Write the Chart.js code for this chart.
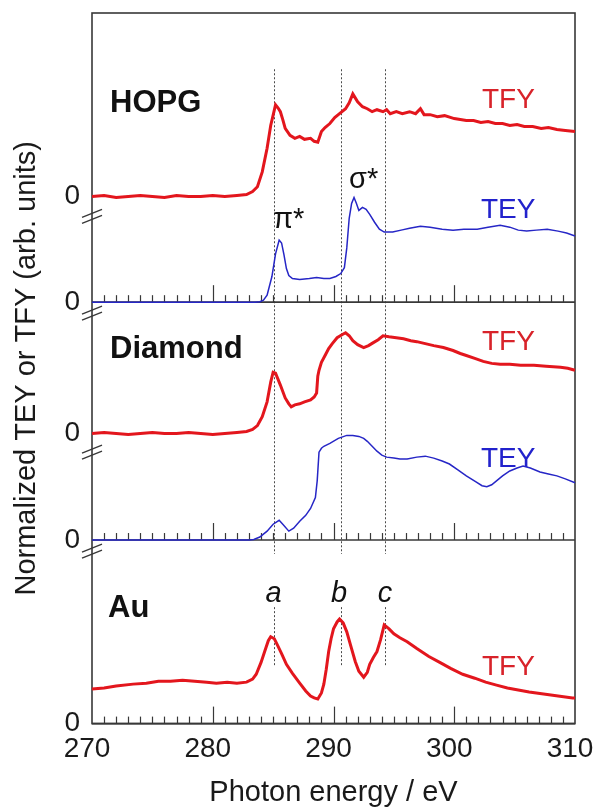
<!DOCTYPE html>
<html>
<head>
<meta charset="utf-8">
<script src="https://cdn.jsdelivr.net/npm/chart.js@4.4.1/dist/chart.umd.min.js"></script>
<style>
  html, body { margin: 0; padding: 0; background: #fff; }
</style>
</head>
<body>
<canvas id="chart" width="596" height="811"></canvas>
<script>
// photon energies (eV) and normalized yields
const hopgTfyE = [270, 271, 272, 273, 274, 275, 276, 277, 278, 279, 280, 281, 282, 282.8, 283.3, 283.7, 284.1, 284.5, 284.8, 285.2, 285.4, 285.6, 285.8, 286.0, 286.4, 286.8, 287.2, 287.6, 288.1, 288.4, 288.7, 289.0, 289.3, 289.7, 290.1, 290.5, 291.0, 291.3, 291.6, 291.8, 292.0, 292.4, 292.8, 293.2, 293.6, 294.1, 294.4, 294.7, 295.2, 295.7, 296.3, 296.8, 297.2, 297.5, 298.0, 298.6, 299.2, 300.0, 300.5, 301.0, 301.6, 302.2, 302.8, 303.4, 304.0, 304.6, 305.2, 305.8, 306.5, 307.2, 307.8, 308.5, 309.2, 310]
const hopgTfy = [0.00, 0.01, -0.01, 0.00, 0.01, 0.00, -0.01, 0.01, 0.00, 0.00, 0.01, 0.00, 0.01, 0.02, 0.05, 0.10, 0.25, 0.49, 0.72, 0.93, 0.90, 0.86, 0.78, 0.69, 0.62, 0.59, 0.61, 0.58, 0.59, 0.56, 0.55, 0.66, 0.70, 0.74, 0.80, 0.84, 0.89, 0.95, 1.04, 1.00, 0.96, 0.91, 0.89, 0.86, 0.88, 0.86, 0.88, 0.84, 0.86, 0.84, 0.86, 0.84, 0.89, 0.83, 0.83, 0.81, 0.82, 0.79, 0.78, 0.77, 0.77, 0.75, 0.76, 0.74, 0.74, 0.72, 0.73, 0.71, 0.71, 0.69, 0.70, 0.68, 0.67, 0.66]

const hopgTeyE = [270, 283.5, 283.9, 284.2, 284.5, 284.9, 285.2, 285.5, 285.7, 285.9, 286.1, 286.3, 286.6, 287.2, 288.0, 288.6, 289.2, 289.7, 290.2, 290.6, 290.9, 291.1, 291.3, 291.5, 291.7, 291.9, 292.1, 292.4, 292.7, 293.0, 293.4, 293.8, 294.2, 294.9, 295.6, 296.3, 297.2, 298.0, 299.0, 299.9, 300.8, 301.9, 302.8, 303.8, 304.6, 305.3, 306.0, 306.8, 307.7, 308.6, 309.3, 310]
const hopgTey = [0, 0, 0.005, 0.02, 0.07, 0.26, 0.49, 0.63, 0.60, 0.48, 0.34, 0.27, 0.24, 0.23, 0.24, 0.25, 0.24, 0.24, 0.26, 0.29, 0.35, 0.55, 0.85, 1.00, 1.06, 1.00, 0.93, 0.96, 0.94, 0.89, 0.81, 0.74, 0.71, 0.71, 0.73, 0.75, 0.77, 0.76, 0.74, 0.73, 0.74, 0.74, 0.76, 0.78, 0.76, 0.73, 0.72, 0.73, 0.74, 0.72, 0.70, 0.67]

const diaTfyE = [270, 271, 272, 273, 274, 275, 276, 277, 278, 279, 280, 281, 282, 282.8, 283.3, 283.7, 284.1, 284.5, 284.8, 285.0, 285.2, 285.6, 286.0, 286.3, 286.5, 286.8, 287.2, 287.6, 288.1, 288.4, 288.6, 288.7, 288.8, 289.0, 289.3, 289.6, 289.9, 290.3, 290.7, 291.0, 291.3, 291.6, 292.0, 292.5, 292.9, 293.3, 293.7, 294.1, 294.6, 295.2, 295.8, 296.4, 296.9, 297.6, 298.3, 299.1, 299.9, 300.5, 301.0, 301.7, 302.4, 303.1, 303.8, 304.6, 305.5, 306.6, 307.6, 308.8, 309.4, 310]
const diaTfy = [0.00, 0.01, 0.00, -0.01, 0.00, 0.01, 0.00, 0.00, 0.01, 0.00, -0.01, 0.00, 0.01, 0.02, 0.04, 0.08, 0.17, 0.32, 0.52, 0.62, 0.61, 0.49, 0.36, 0.30, 0.27, 0.29, 0.30, 0.32, 0.34, 0.37, 0.41, 0.58, 0.64, 0.72, 0.79, 0.86, 0.91, 0.97, 1.00, 1.02, 0.99, 0.94, 0.90, 0.87, 0.89, 0.92, 0.95, 0.99, 0.98, 0.97, 0.96, 0.94, 0.93, 0.91, 0.89, 0.87, 0.84, 0.81, 0.79, 0.76, 0.73, 0.71, 0.70, 0.70, 0.69, 0.69, 0.68, 0.67, 0.66, 0.64]

const diaTeyE = [270, 283.0, 283.4, 283.9, 284.5, 285.0, 285.5, 285.8, 286.3, 286.7, 287.2, 287.7, 288.1, 288.5, 288.65, 288.8, 289.0, 289.2, 289.7, 290.4, 291.1, 291.6, 292.1, 292.5, 292.8, 293.2, 293.6, 294.0, 294.4, 295.0, 295.5, 296.1, 296.9, 297.6, 298.3, 299.0, 299.6, 300.3, 301.0, 301.8, 302.3, 302.7, 303.1, 303.5, 304.0, 304.6, 305.2, 305.7, 306.3, 307.1, 307.8, 308.5, 309.2, 310]
const diaTey = [0, 0, 0.005, 0.03, 0.09, 0.16, 0.20, 0.16, 0.09, 0.12, 0.19, 0.25, 0.32, 0.43, 0.60, 0.89, 0.93, 0.95, 0.98, 1.03, 1.06, 1.06, 1.05, 1.03, 1.00, 0.95, 0.90, 0.86, 0.84, 0.83, 0.82, 0.82, 0.84, 0.85, 0.83, 0.80, 0.77, 0.71, 0.65, 0.59, 0.55, 0.54, 0.56, 0.60, 0.65, 0.70, 0.73, 0.75, 0.73, 0.69, 0.67, 0.65, 0.62, 0.58]

const auTfyE = [270, 271, 272, 273.4, 274.5, 275.5, 276.5, 277.5, 278.5, 279.5, 280.3, 281.2, 282.0, 282.8, 283.3, 283.6, 284.0, 284.3, 284.6, 284.8, 285.1, 285.3, 285.7, 286.1, 286.6, 287.2, 287.7, 288.1, 288.4, 288.7, 289.0, 289.2, 289.4, 289.6, 289.8, 290.0, 290.3, 290.5, 290.8, 291.1, 291.4, 291.8, 292.1, 292.5, 292.8, 293.0, 293.3, 293.6, 293.9, 294.2, 294.6, 295.0, 295.5, 296.1, 296.9, 297.9, 298.8, 299.7, 300.7, 301.7, 302.6, 303.5, 304.4, 305.3, 306.2, 307.4, 308.6, 309.8, 310]
const auTfy = [0.35, 0.36, 0.38, 0.40, 0.41, 0.43, 0.43, 0.44, 0.43, 0.42, 0.41, 0.42, 0.41, 0.42, 0.45, 0.50, 0.62, 0.73, 0.84, 0.88, 0.86, 0.81, 0.71, 0.60, 0.51, 0.41, 0.33, 0.28, 0.26, 0.25, 0.31, 0.40, 0.55, 0.73, 0.86, 0.96, 1.03, 1.06, 1.02, 0.93, 0.80, 0.63, 0.53, 0.47, 0.52, 0.60, 0.67, 0.73, 0.85, 1.00, 0.96, 0.91, 0.87, 0.83, 0.76, 0.68, 0.62, 0.56, 0.50, 0.46, 0.42, 0.39, 0.36, 0.34, 0.32, 0.30, 0.28, 0.26, 0.26]

const xTicks = [270, 280, 290, 300, 310]
const featureE = [285.1, 290.6, 294.3] // a, b, c

const RED = '#e3161d'
const BLUE = '#2626c6'
const INK = '#1a1a1a'
const FONT = "'Liberation Sans', Arial, sans-serif"

Chart.defaults.font.family = FONT

const pts = (es, vs) => es.map((e, i) => ({ x: e, y: vs[i] }))

// strip label padding so the frame sits where it is in the figure
const noPad = (s) => { s.paddingLeft = 0; s.paddingRight = 0; s.paddingTop = 0; s.paddingBottom = 0 }

const panelAxis = (weight, stackWeight, min, max) => ({
  type: 'linear',
  position: 'left',
  stack: 'panels',
  stackWeight: stackWeight,
  weight: weight,
  min: min,
  max: max,
  afterBuildTicks: (s) => { s.ticks = [{ value: 0 }] },
  ticks: { font: { size: 28 }, color: INK, padding: 12 },
  grid: { display: false, drawTicks: false },
  border: { display: false },
  afterFit: (s) => { noPad(s); s.width = 46 }
})

const line = (ctx, x1, y1, x2, y2) => {
  ctx.beginPath()
  ctx.moveTo(x1, y1)
  ctx.lineTo(x2, y2)
  ctx.stroke()
}

const decor = {
  id: 'decor',
  beforeDatasetsDraw (chart) {
    const { ctx, chartArea: a, scales } = chart
    const xs = scales.x
    ctx.save()

    // dotted guides at a, b, c
    ctx.strokeStyle = '#4a4a4a'
    ctx.lineWidth = 1
    ctx.setLineDash([2, 2])
    featureE.forEach((e) => {
      const px = Math.round(xs.getPixelForValue(e)) + 0.5
      line(ctx, px, scales.yHT.getPixelForValue(1.29), px, scales.yDE.bottom + 14)
      line(ctx, px, scales.yAu.getPixelForValue(1.18), px, scales.yAu.getPixelForValue(0.58))
    })
    ctx.setLineDash([])

    // frame and panel dividers
    ctx.strokeStyle = '#383838'
    ctx.lineWidth = 1.6
    ctx.strokeRect(a.left, a.top, a.right - a.left, a.bottom - a.top)
    const floors = [scales.yHE.bottom, scales.yDE.bottom, scales.yAu.bottom]
    floors.forEach((yb) => line(ctx, a.left, yb, a.right, yb))

    // inward ticks on every panel floor
    ctx.lineWidth = 1.2
    floors.forEach((yb) => {
      for (let e = 271; e < 310; e++) {
        const px = Math.round(xs.getPixelForValue(e)) + 0.5
        line(ctx, px, yb, px, yb - (e % 10 === 0 ? 17 : 7))
      }
    })

    // axis break marks
    ctx.lineWidth = 1.3
    const breaks = [scales.yHE.top + 7, scales.yHE.bottom + 11, scales.yDE.top + 1, scales.yDE.bottom + 11]
    breaks.forEach((y) => {
      [-3, 3].forEach((d) => line(ctx, a.left - 10, y + d + 4, a.left + 10, y + d - 4))
    })
    ctx.restore()
  },
  afterDatasetsDraw (chart) {
    const { ctx } = chart
    ctx.save()
    ctx.textBaseline = 'alphabetic'
    const put = (t, x, y, font, color, align) => {
      ctx.font = font
      ctx.fillStyle = color
      ctx.textAlign = align || 'left'
      ctx.fillText(t, x, y)
    }
    const bold = 'bold 31px ' + FONT
    const reg = '28px ' + FONT
    const ital = 'italic 29px ' + FONT
    put('HOPG', 110, 112, bold, '#111')
    put('Diamond', 110, 358, bold, '#111')
    put('Au', 108, 617, bold, '#111')
    put('TFY', 482, 108, reg, '#d8232a')
    put('TEY', 481, 218, reg, '#2222cc')
    put('TFY', 482, 350, reg, '#d8232a')
    put('TEY', 481, 467, reg, '#2222cc')
    put('TFY', 482, 675, reg, '#d8232a')
    put('π*', 273, 228, '29px ' + FONT, '#111')
    put('σ*', 349, 188, '29px ' + FONT, '#111')
    put('a', 273.5, 602, ital, '#111', 'center')
    put('b', 339, 602, ital, '#111', 'center')
    put('c', 385, 602, ital, '#111', 'center')
    ctx.restore()
  }
}

const tfy = (label, es, vs, axis) => ({
  label: label, data: pts(es, vs), yAxisID: axis,
  borderColor: RED, borderWidth: 3, pointRadius: 0, clip: false
})
const tey = (label, es, vs, axis) => ({
  label: label, data: pts(es, vs), yAxisID: axis,
  borderColor: BLUE, borderWidth: 1.5, pointRadius: 0, clip: false
})

const chart = new Chart(document.getElementById('chart'), {
  type: 'line',
  data: {
    datasets: [
      tfy('HOPG TFY', hopgTfyE, hopgTfy, 'yHT'),
      tey('HOPG TEY', hopgTeyE, hopgTey, 'yHE'),
      tfy('Diamond TFY', diaTfyE, diaTfy, 'yDT'),
      tey('Diamond TEY', diaTeyE, diaTey, 'yDE'),
      tfy('Au TFY', auTfyE, auTfy, 'yAu')
    ]
  },
  options: {
    responsive: false,
    animation: false,
    layout: { padding: { left: 10, right: 21, top: 13, bottom: 4 } },
    plugins: { legend: { display: false }, tooltip: { enabled: false } },
    scales: {
      x: {
        type: 'linear',
        min: 270,
        max: 310,
        afterBuildTicks: (s) => { s.ticks = xTicks.map((v) => ({ value: v })) },
        ticks: { font: { size: 28 }, color: INK, padding: 9, labelOffset: -5, maxRotation: 0, autoSkip: false },
        grid: { display: false, drawTicks: false },
        border: { display: false },
        title: { display: true, text: 'Photon energy / eV', font: { size: 29 }, color: INK, padding: { top: 0, bottom: -3 } },
        afterFit: noPad
      },
      yTitle: {
        type: 'linear',
        position: 'left',
        weight: 10,
        min: 0,
        max: 1,
        ticks: { display: false },
        grid: { display: false, drawTicks: false },
        border: { display: false },
        title: { display: true, text: 'Normalized TEY or TFY (arb. units)', font: { size: 29 }, color: INK, padding: { top: 0, bottom: 0 } },
        afterFit: (s) => { noPad(s); s.width = 36 }
      },
      yHT: panelAxis(5, 199, -0.13, 1.86),
      yHE: panelAxis(4, 94, 0, 0.94),
      yDT: panelAxis(3, 151, -0.18, 1.33),
      yDE: panelAxis(2, 90, 0, 0.90),
      yAu: panelAxis(1, 186, 0, 1.86)
    }
  },
  plugins: [decor]
})
</script>
</body>
</html>
